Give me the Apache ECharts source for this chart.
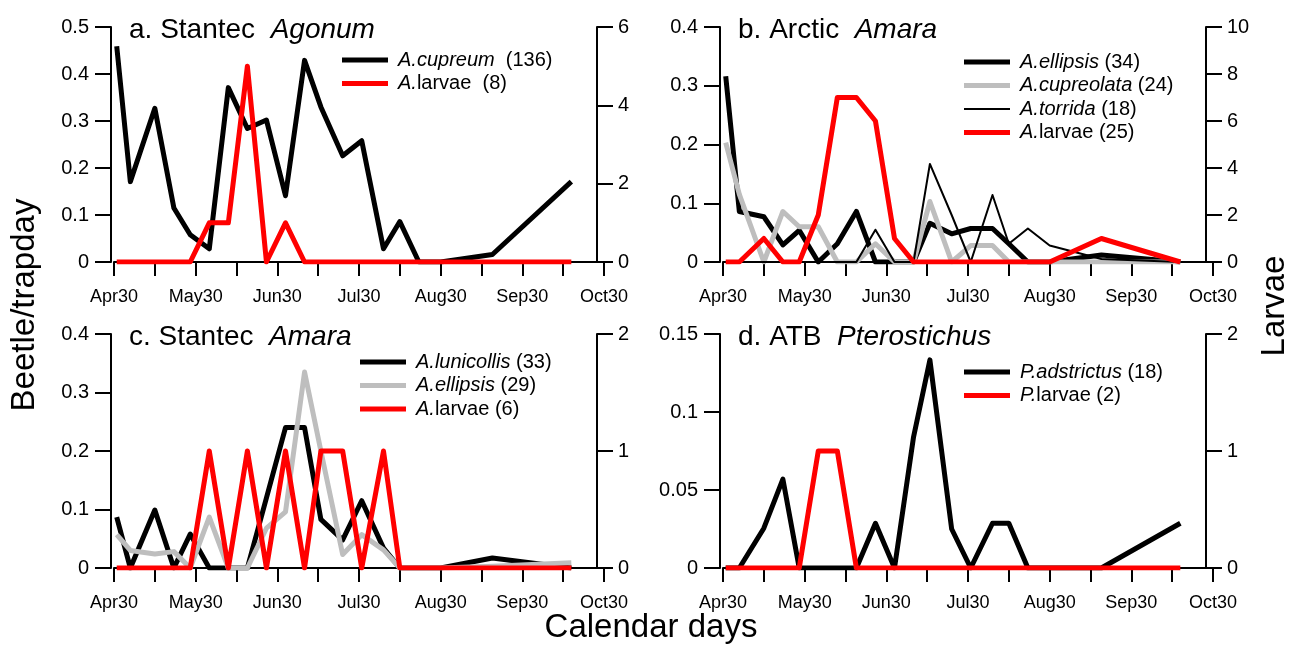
<!DOCTYPE html>
<html>
<head>
<meta charset="utf-8">
<script src="https://cdn.jsdelivr.net/npm/echarts@6/dist/echarts.min.js"></script>
<style>
  html, body { margin: 0; padding: 0; background: #fff; }
  #chart { width: 1289px; height: 646px; }
</style>
</head>
<body>
<div id="chart"></div>
<script>
// sampling dates as day of year (Apr30 = 120, Oct30 = 300)
var days = [121, 126, 135, 142, 148, 155, 162, 169, 176, 183, 190, 196, 204, 211, 219, 225, 232, 240, 259, 288];
var monthLabels = ['Apr30', 'May30', 'Jun30', 'Jul30', 'Aug30', 'Sep30', 'Oct30'];

// a. Stantec Agonum
var aCupreum = [0.459, 0.171, 0.327, 0.115, 0.058, 0.028, 0.371, 0.284, 0.302, 0.141, 0.429, 0.330, 0.226, 0.258, 0.028, 0.086, 0, 0, 0.016, 0.171];
var aLarvae  = [0, 0, 0, 0, 0, 1, 1, 5, 0, 1, 0, 0, 0, 0, 0, 0, 0, 0, 0, 0];

// b. Arctic Amara
var bEllipsis    = [0.316, 0.086, 0.077, 0.029, 0.054, 0, 0.031, 0.086, 0, 0, 0, 0.066, 0.048, 0.057, 0.057, 0.031, 0, 0, 0.012, 0];
var bCupreolata  = [0.203, 0.115, 0, 0.086, 0.060, 0.060, 0, 0, 0.031, 0, 0, 0.103, 0, 0.028, 0.028, 0, 0, 0, 0, 0];
var bTorrida     = [0, 0, 0, 0, 0, 0, 0, 0, 0.055, 0, 0, 0.167, 0.080, 0, 0.114, 0.031, 0.057, 0.028, 0.005, 0];
var bLarvae      = [0, 0, 1, 0, 0, 2, 7, 7, 6, 1, 0, 0, 0, 0, 0, 0, 0, 0, 1, 0];

// c. Stantec Amara
var cLunicollis = [0.087, 0, 0.099, 0, 0.058, 0, 0, 0, 0.120, 0.240, 0.240, 0.083, 0.048, 0.115, 0.034, 0, 0, 0, 0.017, 0];
var cEllipsis   = [0.057, 0.030, 0.024, 0.028, 0, 0.087, 0, 0, 0.068, 0.096, 0.335, 0.200, 0.023, 0.057, 0.031, 0, 0, 0, 0.003, 0.009];
var cLarvae     = [0, 0, 0, 0, 0, 1, 0, 1, 0, 1, 0, 1, 1, 0, 1, 0, 0, 0, 0, 0];

// d. ATB Pterostichus
var dAdstrictus = [0, 0, 0.0255, 0.057, 0, 0, 0, 0, 0.0287, 0, 0.084, 0.1334, 0.025, 0, 0.0287, 0.0287, 0, 0, 0, 0.0287];
var dLarvae     = [0, 0, 0, 0, 0, 1, 1, 0, 0, 0, 0, 0, 0, 0, 0, 0, 0, 0, 0, 0];

var FONT = "'Liberation Sans', Arial, sans-serif";
var GRAY = '#bebebe';
var RED = '#ff0000';
var THICK_ICON = 'path://M0,0H46V5H0Z';
var THIN_ICON = 'path://M0,0H46V2H0Z';

var chart = echarts.init(document.getElementById('chart'));

var panels = [
    { left: 114, top: 27, height: 235, title: 'a. Stantec  ', genus: 'Agonum', leftMax: 0.5, leftStep: 0.1, rightMax: 6, rightStep: 2,
      legendLeft: 342, legendTop: 50 },
    { left: 723, top: 27, height: 235, title: 'b. Arctic  ', genus: 'Amara', leftMax: 0.4, leftStep: 0.1, rightMax: 10, rightStep: 2,
      legendLeft: 964, legendTop: 52 },
    { left: 114, top: 334, height: 234, title: 'c. Stantec  ', genus: 'Amara', leftMax: 0.4, leftStep: 0.1, rightMax: 2, rightStep: 1,
      legendLeft: 360, legendTop: 352 },
    { left: 723, top: 334, height: 234, title: 'd. ATB  ', genus: 'Pterostichus', leftMax: 0.15, leftStep: 0.05, rightMax: 2, rightStep: 1,
      legendLeft: 964, legendTop: 362 }
];

var lines = [
    [
        { name: 'A.cupreum  (136)', vals: aCupreum, color: '#000', width: 5 },
        { name: 'A.larvae  (8)', vals: aLarvae, color: RED, width: 5, right: true }
    ],
    [
        { name: 'A.ellipsis (34)', vals: bEllipsis, color: '#000', width: 5 },
        { name: 'A.cupreolata (24)', vals: bCupreolata, color: GRAY, width: 5 },
        { name: 'A.torrida (18)', vals: bTorrida, color: '#000', width: 2 },
        { name: 'A.larvae (25)', vals: bLarvae, color: RED, width: 5, right: true }
    ],
    [
        { name: 'A.lunicollis (33)', vals: cLunicollis, color: '#000', width: 5 },
        { name: 'A.ellipsis (29)', vals: cEllipsis, color: GRAY, width: 5 },
        { name: 'A.larvae (6)', vals: cLarvae, color: RED, width: 5, right: true }
    ],
    [
        { name: 'P.adstrictus (18)', vals: dAdstrictus, color: '#000', width: 5 },
        { name: 'P.larvae (2)', vals: dLarvae, color: RED, width: 5, right: true }
    ]
];

var axisLine = { show: true, lineStyle: { color: '#000', width: 2 } };

var grids = [], xAxes = [], yAxes = [], titles = [], legends = [], series = [];

panels.forEach(function (p, i) {
    grids.push({ left: p.left, top: p.top, width: 490, height: p.height });
    xAxes.push({
        type: 'value', gridIndex: i, min: 120, max: 300, interval: 15,
        axisLine: axisLine, axisTick: { show: true, length: 14, lineStyle: { color: '#000', width: 2 } },
        splitLine: { show: false },
        axisLabel: {
            margin: 26, color: '#000', fontSize: 18, fontFamily: FONT, showMinLabel: true, showMaxLabel: true,
            formatter: function (v) {
                var k = (v - 120) / 30;
                return k === Math.round(k) ? monthLabels[k] : '';
            }
        }
    });
    yAxes.push({
        type: 'value', gridIndex: i, position: 'left', offset: 3, min: 0, max: p.leftMax, interval: p.leftStep,
        axisLine: axisLine, axisTick: { show: true, length: 16, lineStyle: { color: '#000', width: 2 } },
        splitLine: { show: false },
        axisLabel: { margin: 22, color: '#000', fontSize: 20, fontFamily: FONT }
    });
    yAxes.push({
        type: 'value', gridIndex: i, position: 'right', offset: -7, min: 0, max: p.rightMax, interval: p.rightStep,
        axisLine: axisLine, axisTick: { show: true, length: 16, lineStyle: { color: '#000', width: 2 } },
        splitLine: { show: false },
        axisLabel: { margin: 21, color: '#000', fontSize: 20, fontFamily: FONT }
    });
    titles.push({
        text: '{n|' + p.title + '}{i|' + p.genus + '}',
        left: p.left + 10, top: p.top - 16,
        textStyle: {
            fontWeight: 'normal',
            rich: {
                n: { fontSize: 28, fontFamily: FONT, fontWeight: 'normal', color: '#000' },
                i: { fontSize: 28, fontFamily: FONT, fontWeight: 'normal', fontStyle: 'italic', color: '#000' }
            }
        }
    });
    legends.push({
        data: lines[i].map(function (l) {
            return { name: l.name, icon: l.width > 3 ? THICK_ICON : THIN_ICON, itemStyle: { color: l.color } };
        }),
        orient: 'vertical', left: p.legendLeft, top: p.legendTop,
        itemWidth: 46, itemHeight: 5, itemGap: 3.5, padding: 0, symbolKeepAspect: true,
        formatter: function (name) {
            var cut = name.indexOf('larvae') >= 0 ? 2 : name.indexOf(' ');
            return '{i|' + name.slice(0, cut) + '}{n|' + name.slice(cut) + '}';
        },
        textStyle: {
            rich: {
                i: { fontSize: 20, fontFamily: FONT, fontStyle: 'italic', color: '#000', padding: [0, 0, 0, 5] },
                n: { fontSize: 20, fontFamily: FONT, color: '#000' }
            }
        }
    });
    lines[i].forEach(function (l) {
        series.push({
            name: l.name, type: 'line', xAxisIndex: i, yAxisIndex: i * 2 + (l.right ? 1 : 0),
            data: days.map(function (d, k) { return [d, l.vals[k]]; }),
            symbol: 'none', animation: false,
            lineStyle: { color: l.color, width: l.width, join: 'round' },
            itemStyle: { color: l.color }
        });
    });
});

chart.setOption({
    backgroundColor: '#fff',
    animation: false,
    title: titles,
    legend: legends,
    grid: grids,
    xAxis: xAxes,
    yAxis: yAxes,
    series: series,
    graphic: [
        { type: 'text', x: 25, y: 305, rotation: Math.PI / 2,
          style: { text: 'Beetle/trapday', font: '33px ' + FONT, fill: '#000', textAlign: 'center', textVerticalAlign: 'middle' } },
        { type: 'text', x: 1275, y: 306, rotation: Math.PI / 2,
          style: { text: 'Larvae', font: '33px ' + FONT, fill: '#000', textAlign: 'center', textVerticalAlign: 'middle' } },
        { type: 'text', x: 651, y: 628,
          style: { text: 'Calendar days', font: '33px ' + FONT, fill: '#000', textAlign: 'center', textVerticalAlign: 'middle' } }
    ]
});
</script>
</body>
</html>
